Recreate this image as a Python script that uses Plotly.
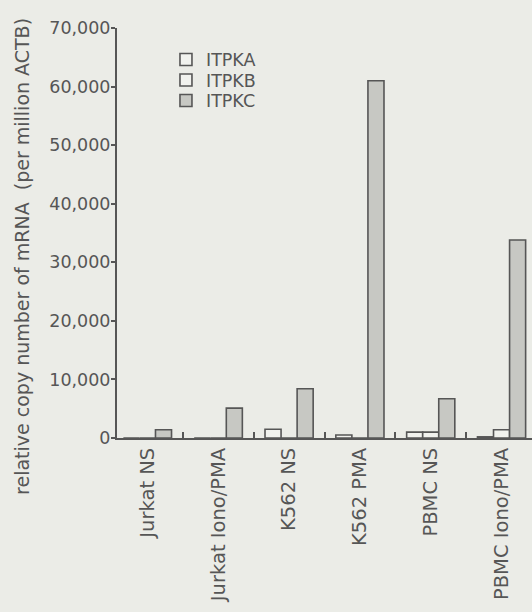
import plotly.graph_objects as go

# Samples (x categories)
samples = ["Jurkat NS", "Jurkat Iono/PMA", "K562 NS", "K562 PMA", "PBMC NS", "PBMC Iono/PMA"]

# Relative copy number of mRNA per million ACTB
itpka = [0, 0, 1500, 500, 1000, 200]
itpkb = [0, 0, 0, 0, 1000, 1400]
itpkc = [1400, 5100, 8400, 61000, 6700, 33800]

series_names = ["ITPKA", "ITPKB", "ITPKC"]
y_ticks = [0, 10000, 20000, 30000, 40000, 50000, 60000, 70000]

INK = "#565656"
PAPER = "#ebece7"
FONT = "DejaVu Sans"

fills = ["#f1f2ee", "#f1f2ee", "#c7c8c3"]
legend_ids = ["legend", "legend2", "legend3"]

fig = go.Figure()
for name, vals, fill, lg in zip(series_names, [itpka, itpkb, itpkc], fills, legend_ids):
    fig.add_trace(go.Bar(
        x=samples, y=vals, name=name, legend=lg,
        marker=dict(color=fill, line=dict(color=INK, width=1.6)),
    ))

# one legend per series so the rows can sit tightly stacked
legend_common = dict(
    xanchor="left", yanchor="middle", bgcolor="rgba(0,0,0,0)",
    font=dict(family=FONT, size=17.5, color=INK), borderwidth=0,
    itemwidth=30, tracegroupgap=0,
)
fig.update_layout(
    legend=dict(x=0.118, y=0.923, **legend_common),
    legend2=dict(x=0.118, y=0.873, **legend_common),
    legend3=dict(x=0.118, y=0.823, **legend_common),
)

fig.update_layout(
    width=532, height=612,
    margin=dict(l=117, r=0, t=28, b=174),
    paper_bgcolor=PAPER, plot_bgcolor=PAPER,
    barmode="group", bargap=0.32, bargroupgap=0,
    font=dict(family=FONT, color=INK),
    showlegend=True,
)

fig.update_xaxes(
    range=[-0.43, 5.43],
    showline=True, linecolor=INK, linewidth=2,
    ticks="inside", tickson="boundaries", ticklen=6, tickwidth=1.5, tickcolor=INK,
    tickangle=-90, tickfont=dict(family=FONT, size=19.5, color=INK),
    showgrid=False, zeroline=False,
)
fig.update_yaxes(
    range=[0, 70000], tickvals=y_ticks, tickformat=",",
    showline=True, linecolor=INK, linewidth=2,
    ticks="outside", ticklen=4, tickwidth=1.5, tickcolor=INK,
    ticklabelstandoff=-3,
    tickfont=dict(family=FONT, size=17.5, color=INK),
    showgrid=False, zeroline=False,
)

fig.add_annotation(
    text="relative copy number of mRNA  (per million ACTB)",
    xref="paper", yref="paper", x=-0.229, y=0.444,
    xanchor="center", yanchor="middle", textangle=-90, showarrow=False,
    font=dict(family=FONT, size=19, color=INK),
)

fig.write_html("out.html")
